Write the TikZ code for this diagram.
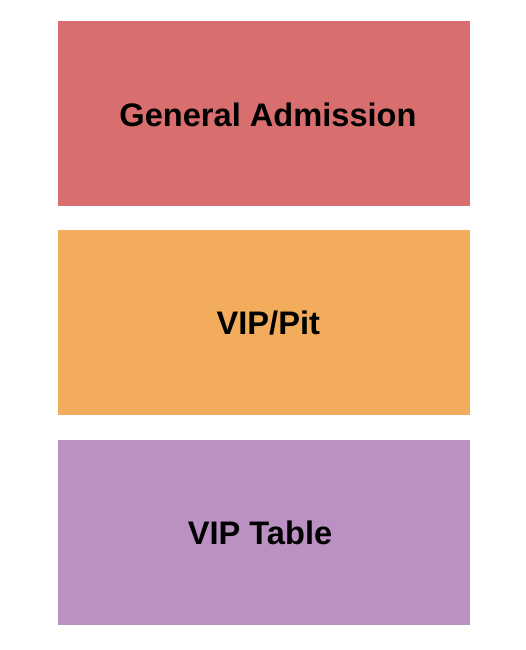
\documentclass[tikz,border=0pt]{standalone}
\usepackage{fontspec}
\setmainfont{Liberation Sans}
\definecolor{gacol}{RGB}{217,110,110}
\definecolor{pitcol}{RGB}{242,172,92}
\definecolor{tabcol}{RGB}{187,144,194}
\begin{document}
\begin{tikzpicture}[x=1pt,y=-1pt,
  sect/.style={inner sep=0pt, minimum width=412pt, minimum height=185pt, draw=none},
  lbl/.style={inner sep=0pt, anchor=base, font=\fontsize{32.6}{38}\selectfont\bfseries, text=black}]
\useasboundingbox[fill=white] (0,0) rectangle (525,650);
\node[sect, fill=gacol] (ga) at (264,113.5) {};
\node[sect, fill=pitcol] (pit) at (264,322.5) {};
\node[sect, fill=tabcol] (tab) at (264,532) {};
\node[lbl] (galbl) at (268,126) {General Admission};
\node[lbl] (pitlbl) at (268.3,334.3) {VIP/Pit};
\node[lbl] (tablbl) at (260,544.3) {VIP Table};
\end{tikzpicture}
\end{document}
